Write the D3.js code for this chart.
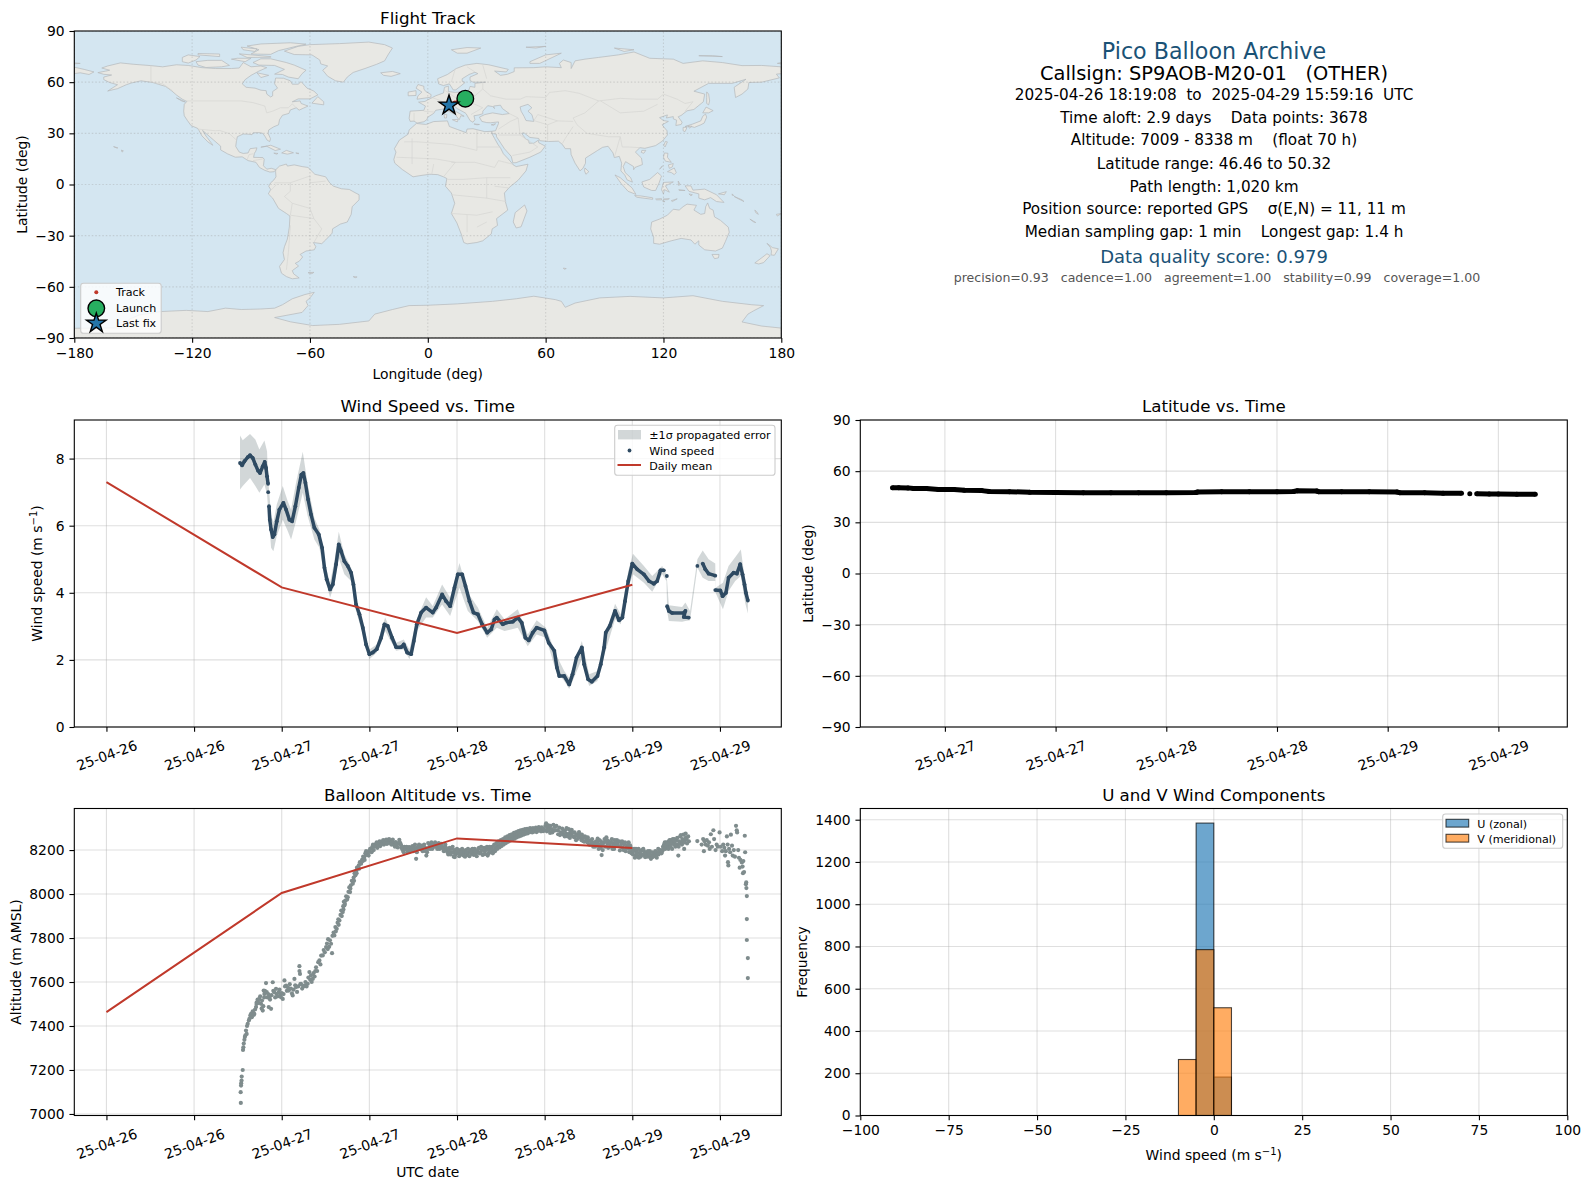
<!DOCTYPE html>
<html><head><meta charset="utf-8">
<script src="https://cdnjs.cloudflare.com/ajax/libs/d3/7.8.5/d3.min.js"></script>
<style>
html,body{margin:0;padding:0;background:#fff}
svg{display:block}
text{font-family:"DejaVu Sans",sans-serif;fill:#000;white-space:pre}
</style></head><body><svg id="c" width="1589" height="1189" viewBox="0 0 1589 1189"></svg>
<script>
// ---------- map outlines, [lon, lat] ----------
const northAmerica=[[-168,65.6],[-164,66.5],[-162,67],[-166,68.3],[-163,69.5],[-156.5,71.3],[-150,70.5],[-141,69.7],[-135,69],[-128,70.2],[-122,69.8],[-115,68.5],[-108,68],[-100,68],[-96,68.3],[-94,71.5],[-90,69],[-85,69.5],[-82,68.5],[-86,66.5],[-90,64],[-93,61.5],[-94.5,59],[-92.5,57],[-88,56.5],[-85,55.3],[-82.3,55],[-82,53],[-80,51.3],[-79,52],[-79,54.5],[-76.5,56.5],[-78,59],[-77.5,62.4],[-73.5,62.3],[-70,60.8],[-69,58.8],[-66,58.8],[-64.5,60.3],[-61.5,56.5],[-58,54.8],[-56,52.5],[-60,50.2],[-66,50.2],[-69,48.5],[-65,49],[-64.5,47.5],[-61,46],[-65.5,43.6],[-67,45],[-70,43.7],[-70.7,41.7],[-74,40.6],[-75.5,38],[-76,35],[-78.5,33.8],[-81,32],[-81.3,30],[-80.1,26.8],[-80.5,25.2],[-81.8,26],[-82.8,28],[-84,30],[-86,30.4],[-89,30.3],[-89.5,29.2],[-91.5,29.5],[-94,29.6],[-97,28],[-97.5,25],[-97.8,22.3],[-96,19],[-94,18.2],[-91.5,18.5],[-90.5,21],[-87,21.5],[-87.6,19.5],[-88.3,18.3],[-88.7,15.9],[-84,15.8],[-83.3,14.8],[-83.7,11],[-82,9],[-79.7,9.5],[-77.4,8.7],[-78.2,7.5],[-80.4,7.3],[-83,8.3],[-85.7,10],[-87.5,13],[-91.5,14],[-94.5,16.2],[-98,16],[-102,18],[-105.5,20.3],[-105.5,22.5],[-109,26],[-112.5,29.5],[-114.7,31.7],[-113,28.5],[-110,24],[-109.5,23],[-112,25],[-115,28.5],[-116.5,31.7],[-117.3,33],[-120.5,34.5],[-122.4,37.5],[-124,40.3],[-124.3,43],[-124,47],[-122.7,48.7],[-125,50],[-128,52.5],[-130.5,55],[-133.5,57.5],[-137,58.7],[-140,59.8],[-146,60.8],[-151,59.5],[-153.5,58.5],[-158,56.2],[-163,54.8],[-158,58.5],[-162,59.8],[-165,61.5],[-165,63],[-161,64.2],[-165,64.6]];
const southAmerica=[[-77.4,8.7],[-75.5,10.8],[-72,12],[-71.5,10.8],[-68,11.5],[-64,10.5],[-61,10],[-57.5,6],[-52,4.5],[-50,1],[-48,-1],[-44,-2.5],[-40,-2.9],[-37,-4.8],[-35,-6],[-35,-9],[-38.5,-13],[-39,-17.5],[-41,-22],[-44.5,-23.2],[-48.5,-26],[-48.7,-28.5],[-52,-32.5],[-54,-34.7],[-58.3,-34],[-57,-36.5],[-57.8,-38.3],[-62,-39],[-65,-41],[-63.7,-42.5],[-65.5,-45],[-67.5,-46.2],[-65.8,-47.8],[-69,-50.5],[-68.3,-52.4],[-65.5,-54.8],[-69,-55.3],[-72,-54],[-74.5,-52],[-75.5,-48],[-73,-44],[-73.7,-40],[-73,-36.5],[-71.5,-32],[-70.5,-25],[-70.2,-18.5],[-72,-17],[-76,-14],[-79,-8],[-81.2,-5.5],[-80,-3],[-81,-1],[-80,1],[-78.5,2.5],[-77.3,4.5],[-77.5,7.5]];
const eurasia=[[-9,37],[-9.5,38.8],[-9,43],[-2,43.5],[-1.2,46],[-4.7,48.3],[-1.5,48.7],[1.5,50.5],[4,52],[8,53.7],[8.5,57],[10.5,57.7],[10.5,54.5],[14,54],[19,54.5],[21,55.5],[21.5,57.5],[24,57],[24,59.3],[29.5,60],[23,60],[21.5,61],[21.5,63],[25.5,65],[24,65.8],[21,64.5],[17.5,62],[17.5,60.5],[19,59.8],[16.5,57.5],[14.3,55.5],[13,55.4],[11,59],[8,58],[5.5,59],[5,62],[10,64.5],[14.5,68],[19,70],[25,71],[31,70.2],[41,67.5],[40,66],[34,66.5],[37,64],[40.5,64.6],[44,66.2],[44,68.4],[54,68.5],[60,69],[68,68.5],[67,71],[69,73],[73,71.5],[73,68],[75,72.5],[80,73.5],[87,74.5],[97,76],[105,77.7],[113,74],[125,73.5],[130,71],[140,72.5],[150,71.5],[160,69.7],[170,69.8],[180,69],[180,65],[177.5,64.7],[179,62.5],[170,60],[163.5,59.8],[163,56],[160,53],[156.7,51],[156,57],[162,61.7],[155,59.3],[143,59.3],[135.5,54.7],[141,53],[140.3,48.5],[135.5,44],[132,43.2],[129,40.5],[127.5,39.7],[129.5,36.5],[129,35.2],[126.3,34.6],[126.7,37.7],[125,38.5],[125,39.8],[121.5,39],[122,40.8],[118,39.2],[120,37.5],[122.5,37],[119.3,35],[121.8,31.5],[122,29],[119.5,25.5],[116,22.8],[110.5,21.2],[108,21.6],[105.7,19],[108.8,15.5],[109.3,11.7],[105.5,10],[104.8,8.7],[104.8,10.5],[102,12.5],[100.7,13.4],[99.5,10.5],[100.5,7],[103.3,4],[104.2,1.4],[101.5,2.7],[100.3,5.5],[98.3,8],[98.7,12.5],[97.5,16.5],[95,15.8],[94.3,18.5],[91.8,22.4],[89,21.8],[86.5,20],[80.3,15.5],[80.3,12.5],[79,9.5],[77.5,8],[75,12.5],[73,17.5],[72.7,21],[70,21],[68.5,23.5],[66.5,25.4],[61.5,25.2],[57,25.7],[56.5,27],[52,27.6],[49,30.3],[47.8,30],[48.7,28.5],[50,26.5],[51.3,26],[51.6,24.2],[54,24.2],[56.3,26],[56.5,24.5],[59.8,22.5],[57.5,19],[52,16],[45,12.8],[43.3,12.7],[42.5,16.5],[39,21],[35,28],[34.9,29.5],[32.6,29.9],[32.5,31.2],[34.5,31.5],[36,35.8],[36,36.7],[32,36.2],[30,36.3],[27.5,37],[26.3,39.5],[29,41],[33,42],[38,41],[41.5,41.6],[38,44.5],[37,46.5],[33.5,46],[34,44.5],[33,45.7],[30.5,46.2],[28,43],[28,41.5],[26,40.8],[23.5,40.3],[24,38],[23,36.5],[21.5,37.5],[19.5,41.5],[19,42],[15,44.5],[13.7,45.7],[12.3,45.3],[12.5,44],[16,41.7],[18.5,40],[16.8,40.3],[16,38],[15.6,38.5],[14,41],[10.5,43],[8.5,44.4],[4,43.5],[3,41.7],[0,39.5],[-0.5,38],[-2,36.8],[-5.5,36],[-7,37.2]];
const africa=[[-5.8,35.8],[-1,35.2],[3,36.9],[10,37.3],[11,34],[15,32.3],[19.5,30.4],[20,32.5],[23,32.7],[29,31],[32.5,31.2],[32.6,29.9],[34,27],[35.7,23.5],[37.2,21],[38.5,18],[41,15],[43.2,12],[43.5,11.5],[45,10.5],[51,11.9],[50,8],[46,2.5],[41.5,-1.7],[39,-5],[39.5,-10],[40.7,-15],[35,-20],[35.5,-24],[32.8,-26],[32.3,-29],[28,-33],[25,-34],[20,-34.8],[18.3,-34],[17,-29],[14.8,-22.5],[12,-17],[13.7,-11],[12,-5],[9,-1],[9.7,3.5],[8,4.5],[5,5.8],[1,6],[-4,5.2],[-7.5,4.5],[-13,8.8],[-16.8,12.5],[-17.3,14.7],[-16.2,19],[-17,21],[-14.5,26],[-10,29.5],[-9.5,32]];
const australia=[[114,-22],[113.5,-26],[115,-31],[115,-34.5],[118,-35],[124,-33],[129,-31.6],[134,-32.5],[136,-35],[138,-33],[138,-35.5],[141,-38.3],[146.5,-39],[150,-37.3],[151.5,-33.5],[153.5,-28],[153,-25],[149,-21],[146,-19],[145.3,-15],[143.5,-14],[142.5,-10.8],[141.5,-13],[141,-17],[139,-17.5],[135.5,-15],[136.8,-12.2],[132,-11.5],[130,-13],[128,-15],[125,-14.5],[122,-18],[118,-20.3]];
const antarctica=[[-180,-84.3],[-155,-84],[-152,-79],[-147,-76.5],[-136,-74.5],[-123,-73.8],[-112,-74.5],[-103,-72.5],[-95,-73.3],[-85,-73],[-78,-72.5],[-74,-70.5],[-69,-67],[-62.5,-64.5],[-57.8,-63.2],[-60,-66.5],[-62,-68.5],[-61,-71],[-64,-75],[-78,-78],[-70,-80.5],[-58.6,-82.7],[-45,-82],[-30,-80],[-27,-76],[-18,-73.3],[-9.5,-71],[0,-70.8],[15,-70],[33,-68.5],[45,-67],[54,-65.5],[65,-67.5],[68,-68.5],[70,-72],[75,-69.5],[87.5,-66.5],[103,-65.6],[120,-66.5],[135,-65.2],[150,-68.5],[165,-70.5],[171,-71],[166,-74],[163,-76],[160,-80.6],[170,-83],[180,-84.2],[180,-91],[-180,-91]];
const greenland=[[-73,78.2],[-66,81],[-60,82],[-45,82.6],[-30,83.5],[-22,82],[-18,80],[-20,76.5],[-22,72.5],[-26,70.5],[-32,68],[-38,65.7],[-41,63],[-43,60],[-47,60.8],[-51,63.5],[-53.5,67],[-51,69.5],[-54.5,70.7],[-55,73],[-59,76],[-68,76.2]];
const arcticIslands=[
[[-80,73.7],[-72,71.5],[-68,70],[-62,67],[-64,65],[-66,62],[-71,63],[-74,64.5],[-78,64.7],[-73,67.5],[-78,69.8],[-86,70],[-89,71.5],[-85,73.7]],
[[-117,70],[-113,68.6],[-105,69],[-101,69.8],[-105,72.8],[-112,72.8],[-118,72]],
[[-125,72],[-122,71.2],[-118,73],[-116,75],[-122,76],[-125,74.5]],
[[-90,76.5],[-80,76.3],[-76,78.5],[-67,81],[-62,82.3],[-70,83.1],[-85,82.4],[-92,81.2],[-86,79]],
[[-96,76.6],[-80,75],[-80,74.6],[-92,74.5]],
[[-87,65.5],[-81,64],[-85,62.7]],
[[-117,76],[-106,75],[-106,76.5],[-117,76.8]],
[[-95,80.5],[-87,79.5],[-88,78],[-94,79]],
[[-100,73.5],[-93,72],[-90,74],[-97,74]],
[[12,79],[20,80.3],[27,80],[20,77],[15,77]],
[[52,71],[57,71],[68,77],[60,76],[52,72]],
[[95,80],[105,79],[100,78]],
[[138,75.5],[145,75.5],[150,75]],
[[50,80.5],[60,81],[55,80]],
[[-180,71.3],[-177,71],[-180,70.8]],
[[178,71],[180,71.5],[180,70.8]],
[[-180,68.8],[-175,67.5],[-170,66],[-172.5,64.5],[-177,65.5],[-180,65]]];
const atlanticIslands=[
[[-59,47.7],[-53,46.7],[-53,48.5],[-56,51.5]],
[[-128,50.8],[-123.5,48.4],[-125,48.8]],
[[-85,21.9],[-80,23],[-75,20.7],[-77.7,19.9],[-82,22.4]],
[[-74.4,18.5],[-72,20],[-68.4,18.6],[-71.5,17.8]],
[[-78.4,18.4],[-76.3,18.2],[-77,17.8]],
[[-67.2,18.5],[-65.6,18.3],[-66,18]],
[[-156,20.2],[-155,19.7],[-155.7,19]],
[[-160,22.2],[-157.8,21.5],[-158.2,21.3]],
[[-61,-51.7],[-58,-51.5],[-59,-52.3]],
[[-38,-54],[-36,-54.2],[-37,-54.7]],
[[-24,65.5],[-18,66.3],[-14,65],[-18.7,63.4],[-22.5,64]],
[[-5.5,50],[1.5,51.2],[1.7,52.7],[-1,54.5],[-2,56],[-2,57.6],[-5,58.6],[-6,56.5],[-3,54.2],[-5,52]],
[[-10,52],[-6,52.2],[-6,55],[-10,54.2]],
[[8.3,41],[9.7,41],[9.5,39],[8.5,39]],
[[12.5,38],[15.5,38.2],[15,36.7]],
[[23.5,35.5],[26.3,35.2],[25,35]],
[[32.3,35],[34.5,35.6],[33.5,34.7]]];
const asiaPacificIslands=[
[[49.3,-12],[50.5,-15.5],[47.5,-24.8],[45,-25.5],[43.5,-22],[44.5,-16.5]],
[[80,9.7],[82,7.5],[80.5,6],[79.8,8]],
[[95.3,5.6],[98,4],[104,-2],[106,-5.8],[102,-4],[98.5,0.5]],
[[105.3,-6.5],[108.5,-6.7],[114.5,-7.8],[114.5,-8.7],[106.5,-7.5]],
[[109,1.5],[113,3],[117,7],[119,5],[117.8,1],[116,-3.5],[114,-3.5],[110,-1.5]],
[[120,1.2],[125,1.5],[121,-0.8],[123,-4.5],[120.5,-3],[120,-5.5],[119,-3]],
[[120.5,18.5],[122.3,18.3],[122,16],[124,13],[121,13.7],[120,16]],
[[122,7.5],[125.5,9.7],[126.5,7],[125.5,5.8],[124,7]],
[[122.5,11.5],[125,12.3],[124.5,10.3],[123,9.5]],
[[118,9],[119.5,11],[119,10]],
[[131,-0.8],[134,-0.8],[135,-3.3],[141,-2.7],[147,-6],[150.8,-10.5],[147,-10],[144,-7.7],[141,-9],[138,-8],[138,-5.5],[133,-4]],
[[144.7,-41],[148.3,-41],[148,-43],[146,-43.5]],
[[172.7,-34.5],[175.5,-37],[178.5,-37.7],[176.5,-41.5],[174.8,-41.3],[175,-39],[174.5,-37]],
[[172.7,-40.6],[174.3,-41.7],[171,-45.8],[168.5,-46.6],[166.5,-46],[170,-43]],
[[131,34],[135,35.5],[139,37.3],[140,40],[141.4,41.3],[142,39.5],[140.7,36],[139,35],[135.8,33.5],[133,34.3]],
[[140,42],[141.7,45.4],[145.3,43.3],[143,42]],
[[130,33.5],[132,33.5],[131,31],[130,31.5]],
[[132.5,34],[134.5,34.2],[133.5,33]],
[[142,54.3],[143,53],[143.5,49],[143,46.7],[142,47.5],[142,51]],
[[121,25.2],[122,25],[120.8,22],[120.2,23]],
[[109,20],[111,20],[110,18.3],[108.7,18.8]],
[[69,-49],[70.5,-49.3],[69.5,-49.7]],
[[164,-20.3],[167,-22.3],[166,-22]],
[[156,-7],[160,-9],[161,-10],[158,-8.3]],
[[166.5,-15],[167.5,-16],[168.3,-17.5],[167,-16.5]],
[[177.5,-17.5],[180,-17],[178,-18.5]],
[[148,-5.5],[152,-4.2],[151,-6]],
[[124,-9.5],[127,-8.4],[124.5,-10]],
[[116,-8.5],[119,-8.3],[119,-9],[116.5,-9]],
[[119.8,-8.5],[123,-8.3],[122,-8.9],[120,-8.9]],
[[119.5,-9.5],[120.8,-10],[120,-10.2]],
[[127.5,2],[128.5,0],[127.7,-0.5]],
[[127.8,-3],[131,-3.5],[128,-3.5]],
[[133,-5.5],[134.7,-6],[134,-6.7]],
[[155,-5.5],[155.8,-6.5],[155,-6.3]]];
const inlandSeas=[[[47,45.5],[51,47],[53,45],[51,43],[53,41],[54,37],[50,37.5],[49,40],[47.5,43]]];
const borderLines=[
[[-141,69.7],[-141,60],[-135,59],[-130,55]],[[-123,49],[-95,49],[-89,48],[-83,46],[-82,42],[-79,43],[-75,45],[-71,45],[-69,47.3],[-67.5,45.5]],
[[-117,32.5],[-108,31.5],[-106,31.7],[-101,29.8],[-97.3,25.9]],[[-92,14.5],[-91,17.5],[-89,18]],[[-89,14],[-84,15]],
[[-70,-18],[-58,-20],[-54,-26],[-58,-34]],[[-70,-18],[-69,-11],[-73,-7],[-70,-4],[-70,1],[-60,5]],[[-70,-24],[-71,-40],[-72,-50]],[[-77,0],[-80,-3.5]],[[-70,1],[-78,1]],[[-60,5],[-60,1],[-52,2]],[[-58,-20],[-60,-14],[-69,-11]],
[[28,56],[32,52],[40,50],[47,50],[50,51.5],[60,51],[62,54],[70,55],[77,53.5],[87,49],[98,50.5],[107,50],[117,50],[120,53],[127,50],[131,47.5],[135,48.5],[131,43]],[[87,49],[80,42],[74,39],[76,35],[81,30],[92,28],[98,28],[99,22],[102,22],[108,21.6]],[[98,28],[95,16]],[[88,49],[98,42],[110,43],[117,47]],
[[74,34],[70,27],[68.5,24]],[[61,25.5],[61,35],[54,37.5]],[[61,35],[66,37.3],[74,37]],[[54,37.5],[56,41],[66,37.3]],[[47,29],[46,39],[41.5,41.6]],[[36,29],[47,29],[56,22],[52,19],[43,17]],[[36,32.5],[42,37],[46,39]],
[[-12,25],[-5,25],[12,23.5],[25,20],[25,32]],[[25,22],[37,22]],[[12,13],[24,13],[34,10]],[[-16,16],[4,15],[14,13]],[[10,3],[18,3],[30,4],[42,4]],[[12,-6],[30,-8],[40,-10]],[[12,-17],[25,-18],[33,-16]],[[20,-18],[20,-28]],[[30,-22],[25,-25]],[[34,10],[36,14],[43,12]],[[-8,12],[-8,27]],[[2,6],[3,12]],[[8,4.5],[14,13]],[[30,4],[30,-8]],[[34,-1],[41,-2]],
[[2,51],[7,49],[8,47.5],[14,47],[22,48],[24,52],[14,51],[9,55]],[[-2,43],[3,42.5]],[[22,48],[28,45],[22,41]],[[-7,42],[-7,37.2]],[[24,52],[28,56],[28,60]],[[14,68],[12,60]],[[20,69],[24,66]],[[28,70],[30,62]]];

// ---------- flight track ----------
const trackLon=[19.1,17.4,15.6,13.8,12.2,10.8];
const trackLat=[50.32,49.4,48.7,47.9,47.1,46.46];
const launchFix=[19.1,50.32];
const lastFix=[10.8,46.46];
const lonTicks=[-180,-120,-60,0,60,120,180];
const latTicks=[-90,-60,-30,0,30,60,90];

// ---------- wind speed, hours since 25-04-26 00:00 UTC ----------
const windHours=[18.29,18.57,18.89,19.34,19.66,20.03,20.39,20.76,21.03,21.4,21.67,21.85,21.99,22.13,null,22.15,null,22.26,22.36,22.54,22.77,23,23.32,23.68,24.23,24.6,25.05,25.42,25.87,26.33,26.69,26.97,27.24,27.61,28.02,28.47,29.07,29.53,29.85,30.16,30.62,30.99,31.44,31.81,32.13,32.58,33.04,33.5,33.82,34.18,34.64,35.1,35.55,36,36.47,37.01,37.61,38.06,38.52,39.11,39.66,40.35,40.71,41.17,41.72,42.08,42.49,43.09,43.77,44.68,45.14,45.96,46.51,47.06,47.65,48.11,48.7,49.16,49.71,50.26,50.85,51.44,52.13,52.68,53.14,53.45,54.27,54.73,55.64,56.32,56.86,57.36,57.82,58.36,58.91,59.95,60.55,61.32,61.68,62,62.68,63.36,63.82,64.36,65.09,65.41,65.95,66.45,67.23,67.68,68.14,68.36,68.91,69.64,70.18,70.64,71,71.45,72,72.68,73.59,74.27,74.95,75.41,75.86,76.32,null,76.73,null,76.77,77,77.45,79.05,79.27,79.05,79.73,null,80.91,null,81.64,82,82.45,83.36,null,83.36,84.05,84.36,84.82,85.18,85.86,86.32,86.77,87.09,87.36,87.55,87.82];
const windSpeed=[7.87,7.8,7.92,8.04,8.1,8.02,7.82,7.64,7.57,7.77,7.9,7.72,7.47,7.25,null,7,null,6.58,6.18,5.89,5.66,5.74,6.13,6.48,6.68,6.48,6.18,6.13,6.58,7.13,7.52,7.57,7.28,6.78,6.33,5.94,5.74,5.34,4.75,4.4,4.1,4.25,4.85,5.44,5.24,4.94,4.8,4.6,4.25,3.65,3.36,2.96,2.46,2.17,2.22,2.32,2.66,3.06,3.01,2.66,2.38,2.38,2.46,2.22,2.17,2.56,3.06,3.41,3.56,3.41,3.56,3.95,3.75,3.6,4.15,4.55,4.55,4.2,3.75,3.41,3.36,3.06,2.81,2.91,3.21,3.26,3.06,3.11,3.14,3.26,3.11,2.66,2.58,2.81,2.96,2.88,2.51,2.27,1.77,1.52,1.52,1.27,1.57,2.07,2.37,1.87,1.42,1.35,1.52,1.87,2.37,2.81,3.01,3.46,3.18,3.26,3.75,4.35,4.87,4.7,4.55,4.35,4.27,4.35,4.67,4.67,null,4.5,null,3.6,3.46,3.4,3.4,3.46,3.28,3.26,null,4.8,null,4.87,4.7,4.57,4.51,null,4.08,4.07,3.9,4,4.45,4.6,4.57,4.85,4.55,4.25,4,3.77];
const bandHours=[18.29,18.66,19.66,20.39,20.94,21.63,21.99,22.13,22.54,22.86,23.32,24.14,24.82,25.28,25.96,26.88,27.56,28.47,29.16,29.84,30.62,31.21,31.81,32.58,33.5,34.18,35.1,36,37.01,38.16,39.66,40.71,41.49,42.49,43.77,44.68,45.96,47.06,48.34,49.48,50.85,52.13,53.45,54.5,56.32,57.68,58.91,60.18,61.55,62.68,63.36,65.09,66.09,67.23,68.14,69.64,70.41,71.45,72.09,73.59,74.73,76.09,76.68,76.77,77,78.82,79.27,79.91,80.91,81.64,82.45,83.36,83.4,84.41,85.18,86.09,86.86,87.45,87.82];
const bandHigh=[8.69,8.55,8.73,8.57,8.27,8.54,8.22,7.42,6.33,6.09,6.63,7.18,6.73,6.48,7.28,8.2,7.23,6.23,5.89,4.94,4.3,4.94,5.82,5.14,4.75,3.8,3.11,2.31,2.46,3.26,2.51,2.61,2.31,3.21,3.87,3.61,4.25,3.85,4.89,4,3.56,2.96,3.51,3.21,3.51,2.76,3.18,2.96,2.17,1.67,1.47,2.56,1.57,1.67,2.56,3.67,3.36,4.65,5.16,4.8,4.5,4.8,4.55,4.35,3.63,3.58,3.71,3.46,5,5.26,5,4.87,4.15,4.3,4.8,5.06,5.29,4.35,4];
const bandLow=[7.08,7.18,7.42,7.18,6.98,7.23,6.93,6.53,5.34,5.24,5.69,6.18,5.84,5.59,6.13,6.98,6.28,5.59,5.34,4.5,3.85,4.25,5.04,4.55,4.35,3.45,2.76,2.02,2.22,2.86,2.27,2.32,2.02,2.86,3.26,3.26,3.65,3.31,4.15,3.46,3.16,2.66,2.96,2.86,2.96,2.41,2.76,2.66,1.67,1.37,1.13,2.02,1.22,1.37,2.12,3.21,3.06,4.15,4.55,4.3,4.03,4.55,4.35,3.46,3.16,3.14,3.16,3.18,4.75,4.45,4.35,4.35,4,3.51,4.05,4.35,4.5,3.7,3.38];
const dailyHours=[0,24,48,72];
const dailyWind=[7.3,4.16,2.8,4.24];
const dailyAlt=[7463,8005,8253,8209];
const windTicks=[0,2,4,6,8];

// ---------- latitude vs. time ----------
const latHours=[18.32,19,20,20.6,22,23.3,25,26.1,28,28.8,31,33.2,36,39,42,45,48,51.2,51.4,54,57,60,61.8,62.2,64.3,64.5,67,70,73,73.3,76,78,80,null,80.9,null,81.65,83,84,86,88];
const latValues=[50.32,50.25,50.2,49.9,49.8,49.3,49.2,48.8,48.6,48.1,48,47.6,47.5,47.4,47.4,47.4,47.4,47.5,47.8,47.9,48,48,48.1,48.5,48.4,48,47.9,47.9,47.8,47.4,47.3,47.1,47,null,46.8,null,46.7,46.6,46.55,46.5,46.46];

// ---------- altitude readings, [hour, metres] ----------
const altClimbA=[[18.4,7050],[18.38,7099],[18.43,7129],[18.45,7140],[18.5,7152],[18.52,7170],[18.66,7200],[18.7,7291],[18.75,7303],[18.8,7320],[18.89,7337],[18.95,7350],[19.02,7357],[19.2,7364],[19.11,7379],[19.25,7400],[19.34,7410],[19.5,7425],[19.57,7432],[19.7,7448],[19.8,7455],[19.9,7440],[20.03,7467],[20.15,7450],[20.25,7455],[20.35,7475],[20.48,7486],[20.55,7500],[20.58,7508],[20.7,7520],[20.85,7505],[20.94,7523],[21.05,7535],[21.17,7501],[21.25,7480],[21.3,7516],[21.4,7470],[21.48,7490],[21.53,7561],[21.6,7530],[21.63,7546],[21.7,7560],[21.85,7595],[21.95,7554],[22.05,7530],[22.15,7545],[22.22,7486],[22.31,7531],[22.4,7520],[22.54,7478],[22.6,7540],[22.77,7599],[22.85,7560],[23,7554],[23.1,7530],[23.22,7569],[23.3,7545],[23.45,7535],[23.59,7554],[23.7,7565],[23.8,7540],[23.9,7531],[24,7550],[24.14,7523],[24.25,7545]];
const altShelf=[[24.37,7607],[24.45,7580],[24.6,7584],[24.7,7560],[24.85,7575],[24.96,7561],[25.1,7590],[25.25,7570],[25.4,7548],[25.5,7539],[25.62,7565],[25.74,7614],[25.85,7585],[25.96,7577],[26.1,7555],[26.25,7580],[26.42,7672],[26.43,7650],[26.5,7637],[26.55,7590],[26.64,7592],[26.8,7570],[26.95,7580],[27.1,7584],[27.25,7600],[27.4,7580],[27.56,7592],[27.65,7620],[27.79,7645],[27.9,7610],[28,7630],[28.1,7600],[28.25,7614],[28.35,7640],[28.5,7625],[28.6,7650],[28.7,7667],[28.85,7650],[29,7690],[29.16,7698],[29.3,7680],[29.4,7720],[29.62,7721],[29.75,7745],[29.9,7735],[30.07,7759],[30.2,7775],[30.35,7795],[30.5,7760],[30.6,7790],[30.75,7774],[30.89,7731],[30.95,7810]];
const altClimbB=[[31.1,7825],[31.21,7812],[31.35,7850],[31.53,7842],[31.65,7870],[31.75,7885],[31.9,7880],[32.05,7905],[32.15,7925],[32.22,7900],[32.36,7918],[32.42,7945],[32.5,7965],[32.58,7948],[32.7,7970],[32.82,7990],[32.95,7975],[33.04,7986],[33.14,8010],[33.25,8030],[33.36,8009],[33.46,8040],[33.6,8060],[33.73,8047],[33.85,8075],[33.97,8095],[34.09,8085],[34.2,8105],[34.3,8120],[34.41,8115],[34.55,8130],[34.7,8145],[34.87,8138],[35,8155],[35.15,8170],[35.3,8168],[35.45,8185],[35.6,8178],[35.8,8183],[35.95,8195],[36.1,8205],[36.24,8206],[33.4,8025],[33.9,8060],[34.25,8095],[34.6,8115],[35.1,8150],[35.35,8155],[35.55,8195],[35.9,8175],[36.3,8190],[32.45,7930],[32.65,7955],[31.8,7860],[31.4,7830],[30.3,7750]];
const altFloatA=[[36.4,8215],[36.6,8200],[36.8,8225],[36.9,8221],[37.1,8210],[37.3,8230],[37.5,8218],[37.7,8238],[37.84,8236],[38,8225],[38.2,8240],[38.4,8228],[38.55,8242],[38.75,8241],[38.9,8232],[39.1,8240],[39.25,8225],[39.43,8229],[39.6,8236],[39.8,8215],[39.95,8232],[40.1,8247],[40.25,8230],[40.4,8210],[40.6,8198],[40.8,8215],[41,8205],[41.2,8190],[41.35,8212],[41.5,8214],[41.7,8200],[41.9,8218],[42.1,8205],[42.25,8225],[42.4,8160],[42.5,8190],[42.65,8215],[42.8,8225],[43,8205],[43.15,8220],[43.3,8195],[43.5,8225],[43.65,8210],[43.8,8175],[43.9,8190],[44.05,8232],[44.2,8215],[44.4,8225],[44.6,8205],[44.8,8215],[45,8235],[45.2,8215],[45.4,8222],[45.6,8205],[45.8,8220],[46,8210],[46.2,8195],[46.4,8225],[46.6,8200],[46.8,8180],[47,8210],[47.2,8190],[47.4,8215],[47.55,8170],[47.7,8168],[47.85,8195],[48,8205]];
const altFloatAFill=[[36.5,8225],[36.7,8215],[37,8235],[37.2,8218],[37.4,8240],[37.6,8225],[37.9,8245],[38.1,8235],[38.3,8248],[38.5,8232],[38.7,8250],[39,8225],[39.2,8248],[39.5,8215],[39.7,8225],[39.9,8212],[40.15,8235],[40.35,8222],[40.5,8205],[40.7,8190],[40.9,8205],[41.1,8215],[41.3,8200],[41.6,8195],[41.8,8210],[42,8195],[42.2,8210],[42.45,8205],[42.7,8205],[42.95,8218],[43.2,8205],[43.4,8215],[43.7,8195],[44,8205],[44.3,8205],[44.5,8235],[44.7,8225],[44.95,8215],[45.1,8225],[45.3,8205],[45.5,8232],[45.7,8212],[45.9,8228],[46.1,8205],[46.3,8215],[46.5,8210],[46.7,8190],[46.9,8200],[47.1,8180],[47.3,8205],[47.5,8188],[47.65,8200],[47.8,8180],[47.95,8190]];
const altFloatB=[[48.2,8185],[48.4,8200],[48.6,8180],[48.8,8195],[49,8185],[49.2,8200],[49.4,8178],[49.6,8190],[49.8,8200],[50,8182],[50.2,8192],[50.4,8205],[50.6,8185],[50.8,8195],[51,8210],[51.2,8190],[51.4,8200],[51.6,8180],[51.8,8195],[52,8205],[52.2,8175],[52.35,8185],[52.5,8205],[52.65,8190],[52.8,8215],[52.95,8200],[53.1,8225],[53.25,8210],[53.4,8232],[53.55,8218],[53.7,8240],[53.85,8225],[54,8245],[54.15,8230],[54.3,8250],[54.45,8238],[54.6,8258],[54.75,8245],[54.9,8262],[55.05,8250],[55.2,8268],[55.35,8255],[55.5,8272],[55.65,8260],[55.8,8278],[55.95,8268],[56.1,8282],[56.25,8272],[56.4,8286],[56.55,8278],[56.7,8290],[56.85,8280],[57,8292],[57.15,8284],[57.3,8295],[57.45,8288],[57.6,8297],[57.8,8290],[58,8300],[58.2,8292],[58.4,8300],[58.6,8294],[58.8,8302],[59,8295],[59.2,8304],[59.4,8296],[59.6,8303],[59.8,8298]];
const altFloatBFill=[[48.1,8200],[48.3,8172],[48.5,8190],[48.7,8205],[48.9,8175],[49.1,8170],[49.3,8190],[49.5,8205],[49.7,8172],[49.9,8192],[50.1,8205],[50.3,8178],[50.5,8195],[50.7,8172],[50.9,8205],[51.1,8185],[51.3,8215],[51.5,8178],[51.7,8210],[51.9,8182],[52.1,8215],[52.3,8200],[52.45,8215],[52.7,8205],[52.9,8185],[53.2,8195],[53.5,8205],[53.8,8212],[54.1,8218],[54.4,8225],[54.7,8232],[55,8238],[55.3,8243],[55.6,8248],[55.9,8252],[56.2,8258],[56.5,8262],[56.8,8266],[57.1,8270],[57.4,8274],[57.7,8276],[58,8282],[58.3,8280],[58.6,8284],[58.9,8282],[59.2,8288],[59.5,8285],[59.8,8286]];
const altFloatC=[[60.1,8310],[60.2,8322],[60.35,8300],[60.5,8312],[60.65,8298],[60.8,8310],[61,8295],[61.2,8315],[61.4,8305],[61.6,8310],[61.8,8290],[62,8302],[62.2,8280],[62.4,8298],[62.6,8270],[62.8,8290],[63,8300],[63.15,8262],[63.3,8295],[63.5,8280],[63.7,8292],[63.9,8262],[64.1,8280],[64.3,8245],[64.5,8272],[64.7,8282],[64.9,8255],[65.1,8270],[65.3,8240],[65.5,8262],[65.7,8245],[65.9,8258],[66.1,8225],[66.3,8242],[66.5,8250],[66.7,8230],[66.9,8215],[67.05,8240],[67.25,8252],[67.4,8205],[67.55,8225],[67.7,8240],[67.8,8177],[67.95,8200],[68.1,8235],[68.3,8215],[68.45,8258],[68.6,8228],[68.8,8240],[69,8215],[69.2,8250],[69.35,8230],[69.5,8205],[69.7,8235],[69.9,8245],[70.1,8218],[70.3,8198],[70.5,8228],[70.7,8210],[70.9,8225],[71.1,8195],[71.3,8215],[71.5,8235],[71.6,8190],[71.8,8210],[71.95,8200]];
const altFloatCFill=[[60.05,8290],[60.3,8285],[60.55,8290],[60.75,8278],[61.05,8280],[61.3,8288],[61.55,8290],[61.85,8272],[62.1,8268],[62.35,8275],[62.55,8285],[62.75,8262],[62.95,8275],[63.25,8272],[63.45,8255],[63.65,8268],[63.85,8280],[64.05,8258],[64.25,8265],[64.45,8250],[64.65,8262],[64.85,8272],[65.05,8245],[65.25,8255],[65.45,8238],[65.65,8258],[65.85,8235],[66.05,8245],[66.25,8225],[66.45,8235],[66.65,8215],[66.85,8235],[67,8225],[67.2,8235],[67.35,8222],[67.5,8245],[67.65,8210],[67.85,8220],[68,8230],[68.2,8250],[68.35,8238],[68.55,8245],[68.7,8210],[68.9,8228],[69.1,8235],[69.3,8205],[69.45,8220],[69.6,8245],[69.8,8220],[70,8232],[70.2,8240],[70.4,8215],[70.6,8240],[70.8,8200],[71,8235],[71.2,8210],[71.4,8225],[71.55,8205],[71.7,8222],[71.9,8185]];
const altFloatD=[[72.1,8180],[72.25,8205],[72.4,8175],[72.55,8195],[72.7,8170],[72.85,8205],[73,8185],[73.15,8170],[73.3,8200],[73.45,8178],[73.6,8195],[73.75,8168],[73.9,8190],[74.05,8180],[74.25,8170],[74.4,8195],[74.6,8175],[74.8,8168],[75,8185],[75.2,8175],[75.4,8190],[75.55,8205],[75.75,8195],[76,8185],[76.2,8215],[76.35,8225],[76.5,8205],[76.65,8235],[76.85,8215],[77,8240],[77.15,8225],[77.3,8245],[77.45,8205],[77.6,8230],[77.75,8250],[77.9,8215],[78.05,8245],[78.2,8225],[78.3,8175],[78.4,8240],[78.55,8262],[78.7,8235],[78.85,8250],[79,8270],[79.1,8205],[79.2,8245],[79.35,8258],[79.5,8230],[79.75,8240]];
const altFloatDFill=[[72.15,8195],[72.35,8165],[72.5,8205],[72.65,8185],[72.9,8165],[73.1,8195],[73.25,8180],[73.5,8205],[73.7,8182],[73.95,8170],[74.15,8195],[74.35,8180],[74.55,8160],[74.75,8190],[74.95,8172],[75.15,8195],[75.35,8165],[75.6,8180],[75.9,8200],[76.1,8195],[76.3,8205],[76.45,8235],[76.6,8220],[76.8,8230],[76.95,8205],[77.1,8245],[77.25,8215],[77.4,8235],[77.55,8250],[77.7,8225],[77.85,8240],[78,8225],[78.15,8255],[78.35,8215],[78.5,8230],[78.65,8268],[78.8,8225],[78.95,8245],[79.15,8235],[79.3,8275],[79.45,8250],[79.65,8262]];
const altDescent=[[80.9,8241],[81.5,8225],[81.7,8250],[81.8,8195],[81.9,8240],[82.05,8225],[82.2,8245],[82.35,8220],[82.5,8235],[82.6,8205],[82.75,8272],[82.9,8215],[83.1,8290],[83.2,8250],[83.4,8200],[83.55,8225],[83.7,8215],[83.95,8280],[84.1,8215],[84.3,8195],[84.45,8225],[84.6,8210],[84.7,8175],[84.8,8195],[84.95,8262],[85.05,8225],[85.1,8145],[85.15,8130],[85.25,8205],[85.4,8190],[85.5,8270],[85.65,8220],[85.75,8175],[85.9,8200],[86.05,8170],[86.2,8310],[86.3,8290],[86.35,8280],[86.5,8200],[86.6,8165],[86.7,8120],[86.8,8155],[87,8144],[87.1,8125],[87.15,8095],[87.2,8150],[87.3,8100],[87.4,8265],[87.45,8190],[87.6,8053],[87.55,8045],[87.62,8027],[87.68,7991],[87.68,7886],[87.68,7791],[87.82,7709],[87.82,7618]];
const altTicks=[7000,7200,7400,7600,7800,8000,8200];

// ---------- wind component histogram ----------
const binEdgesU=[-5,0];
const binCountsU=[1384,182];
const binEdgesV=[-10,-5,0];
const binCountsV=[265,785,510];
const histBinWidth=5;
const histXTicks=[-100,-75,-50,-25,0,25,50,75,100];
const histYTicks=[0,200,400,600,800,1000,1200,1400];

// ---------- text ----------
const dateTicksFull=[0,12,24,36,48,60,72,84];
const dateLabelsFull=["25-04-26","25-04-26","25-04-27","25-04-27","25-04-28","25-04-28","25-04-29","25-04-29"];
const dateTicksLat=[24,36,48,60,72,84];
const dateLabelsLat=["25-04-27","25-04-27","25-04-28","25-04-28","25-04-29","25-04-29"];
const infoLines=[
 ["Pico Balloon Archive",22.2,"#1a5276",51,1214],
 ["Callsign: SP9AOB-M20-01   (OTHER)",19.4,"#000",73,1214],
 ["2025-04-26 18:19:08  to  2025-04-29 15:59:16  UTC",15.25,"#000",94.2,1214],
 ["Time aloft: 2.9 days    Data points: 3678",15.25,"#000",117.6,1214],
 ["Altitude: 7009 - 8338 m    (float 70 h)",15.25,"#000",140,1214],
 ["Latitude range: 46.46 to 50.32",15.25,"#000",163.2,1214],
 ["Path length: 1,020 km",15.25,"#000",186.5,1214],
 ["Position source: reported GPS    σ(E,N) = 11, 11 m",15.25,"#000",208.8,1214],
 ["Median sampling gap: 1 min    Longest gap: 1.4 h",15.25,"#000",232,1214],
 ["Data quality score: 0.979",18,"#1a5276",256.4,1214],
 ["precision=0.93   cadence=1.00   agreement=1.00   stability=0.99   coverage=1.00",12.55,"#555",277.6,1217]];

// ---------- layout & scales ----------
const svg=d3.select("#c");
const L=[74.3,781.3],R=[860.3,1567.3];
const R1=[338,31],R2=[727,420],R3=[1115.5,808.5];
const FS=13.89, SMALL=11.1, TITLE=16.67;
const red="#c0392b", navy="#2e4a62", slate="#7f8c8d";
const uniq=(()=>{let i=0;return ()=>"clip"+(++i);})();
const minus=s=>String(s).replace("-","\u2212");

function panel(xr,yr,xs,ys,o){
  const g=svg.append("g");
  const id=uniq();
  g.append("clipPath").attr("id",id).append("rect").attr("x",xr[0]).attr("y",yr[1]).attr("width",xr[1]-xr[0]).attr("height",yr[0]-yr[1]);
  const plot={bg:g.append("g"),grid:g.append("g"),clip:g.append("g").attr("clip-path",`url(#${id})`),top:g.append("g")};
  if(o.bg) plot.bg.append("rect").attr("x",xr[0]).attr("y",yr[1]).attr("width",xr[1]-xr[0]).attr("height",yr[0]-yr[1]).attr("fill",o.bg);
  plot.xr=xr;plot.yr=yr;
  plot.axes=()=>{
    const gs={stroke:"#b0b0b0","stroke-width":1.1,"stroke-opacity":.4};
    const grid=plot.gridLayer||plot.grid;
    const dashed=l=>{if(o.dash)l.attr("stroke-dasharray","1.5 2").attr("stroke","#999").attr("stroke-opacity",.32);};
    o.xTicks.forEach(t=>{const l=grid.append("line").attr("x1",xs(t)).attr("x2",xs(t)).attr("y1",yr[0]).attr("y2",yr[1]);Object.entries(gs).forEach(([k,v])=>l.attr(k,v));dashed(l);});
    o.yTicks.forEach(t=>{const l=grid.append("line").attr("x1",xr[0]).attr("x2",xr[1]).attr("y1",ys(t)).attr("y2",ys(t));Object.entries(gs).forEach(([k,v])=>l.attr(k,v));dashed(l);});
    const ax=d3.axisBottom(xs).tickValues(o.xTicks).tickSize(4.86).tickPadding(4.86).tickFormat((d,i)=>o.xLabels?o.xLabels[i]:minus(d));
    const xg=plot.top.append("g").attr("transform",`translate(0,${yr[0]})`).call(ax);
    const ay=d3.axisLeft(ys).tickValues(o.yTicks).tickSize(4.86).tickPadding(4.86).tickFormat(d=>minus(d));
    const yg=plot.top.append("g").attr("transform",`translate(${xr[0]},0)`).call(ay);
    [xg,yg].forEach(s=>{s.select(".domain").remove();s.selectAll("line").attr("stroke","#000").attr("stroke-width",1.1);s.selectAll("text").attr("font-family",null).style("font-size",FS+"px").attr("fill","#000");s.attr("font-family",null).attr("font-size",null);});
    if(o.xLabels){xg.selectAll(".tick text").attr("y",null).attr("dy",".35em").attr("text-anchor","middle").attr("transform","translate(0,28.5) rotate(-20)");}
    plot.top.append("rect").attr("x",xr[0]).attr("y",yr[1]).attr("width",xr[1]-xr[0]).attr("height",yr[0]-yr[1]).attr("fill","none").attr("stroke","#000").attr("stroke-width",1.1);
  };
  return plot;
}
function label(t,x,y,size,opt={}){
  const e=svg.append("text").attr("x",x).attr("y",y).attr("text-anchor",opt.anchor||"middle").style("font-size",size+"px").text(t);
  if(opt.fill) e.style("fill",opt.fill);
  if(opt.rot) e.attr("transform",`rotate(-90 ${x} ${y})`);
  return e;
}
function windLabel(x,y,rot){
  const e=svg.append("text").attr("x",x).attr("y",y).attr("text-anchor","middle").style("font-size",FS+"px");
  if(rot) e.attr("transform",`rotate(-90 ${x} ${y})`);
  e.append("tspan").text("Wind speed (m s");
  e.append("tspan").attr("dy",-5).style("font-size","10px").text("\u22121");
  e.append("tspan").attr("dy",5).text(")");
}
function legendBox(g,x,y,w,h,op){
  g.append("rect").attr("x",x).attr("y",y).attr("width",w).attr("height",h).attr("rx",2.8).attr("fill","#fff").attr("fill-opacity",op).attr("stroke","#ccc").attr("stroke-width",1.1);
}
function starPath(r){
  const pts=[];
  for(let i=0;i<10;i++){const a=-Math.PI/2+i*Math.PI/5,q=i%2?r*0.382:r;pts.push([q*Math.cos(a),q*Math.sin(a)]);}
  return "M"+pts.map(p=>p.join(",")).join("L")+"Z";
}

// ---------- Flight track ----------
{
  const x=d3.scaleLinear().domain([-180,180]).range(L), y=d3.scaleLinear().domain([-90,90]).range(R1);
  const p=panel(L,R1,x,y,{bg:"#d4e6f1",xTicks:lonTicks,yTicks:latTicks,dash:true});
  const geo=d3.line().x(d=>x(d[0])).y(d=>y(d[1]));
  const polys=[northAmerica,southAmerica,eurasia,africa,australia,antarctica,greenland,...arcticIslands,...atlanticIslands,...asiaPacificIslands];
  p.clip.selectAll("path.land").data(polys).join("path").attr("class","land").attr("d",d=>geo(d)+"Z").attr("fill","#e8e8e4").attr("stroke","#b4b8ba").attr("stroke-width",.7).attr("stroke-linejoin","round");
  p.clip.selectAll("path.sea").data(inlandSeas).join("path").attr("class","sea").attr("d",d=>geo(d)+"Z").attr("fill","#d4e6f1").attr("stroke","#b4b8ba").attr("stroke-width",.7);
  p.clip.selectAll("path.border").data(borderLines).join("path").attr("class","border").attr("d",geo).attr("fill","none").attr("stroke","#d6d6d2").attr("stroke-width",.7);
  p.gridLayer=p.clip.append("g");
  p.axes();
  const m=p.clip.append("g");
  m.selectAll("circle.t").data(trackLon).join("circle").attr("class","t").attr("cx",d=>x(d)).attr("cy",(d,i)=>y(trackLat[i])).attr("r",2.2).attr("fill",red);
  m.append("path").attr("d",d3.line().x(d=>x(d)).y((d,i)=>y(trackLat[i]))(trackLon)).attr("stroke",red).attr("stroke-width",3).attr("fill","none");
  m.append("circle").attr("cx",x(launchFix[0])).attr("cy",y(launchFix[1])).attr("r",8.3).attr("fill","#27ae60").attr("stroke","#000").attr("stroke-width",1.4);
  m.append("path").attr("transform",`translate(${x(lastFix[0])},${y(lastFix[1])})`).attr("d",starPath(10.3)).attr("fill","#2475a8").attr("stroke","#000").attr("stroke-width",1.4);
  const lg=p.top.append("g");
  legendBox(lg,80.7,283.3,80.5,50,.8);
  lg.append("circle").attr("cx",96.3).attr("cy",292.3).attr("r",2).attr("fill",red);
  lg.append("circle").attr("cx",96.3).attr("cy",308.3).attr("r",8.3).attr("fill","#27ae60").attr("stroke","#000").attr("stroke-width",1.4);
  lg.append("path").attr("transform","translate(96.3,323.3)").attr("d",starPath(10.3)).attr("fill","#2475a8").attr("stroke","#000").attr("stroke-width",1.4);
  [["Track",296.3],["Launch",312],["Last fix",327]].forEach(([t,yy])=>{lg.append("text").attr("x",116).attr("y",yy).style("font-size",SMALL+"px").text(t);});
  label("Flight Track",(L[0]+L[1])/2,23.8,TITLE);
  label("Longitude (deg)",(L[0]+L[1])/2,379,FS);
  label("Latitude (deg)",27,(R1[0]+R1[1])/2,FS,{rot:true});
}

// ---------- Info panel ----------
infoLines.forEach(([t,s,c,yy,xx])=>{label(t,xx,yy+s*0.36,s,{fill:c});});

// ---------- Wind speed ----------
const runs=(hs,vs)=>hs.map((h,i)=>({h,v:vs[i]}));
{
  const x=d3.scaleLinear().domain([-4.4,92.4]).range(L), y=d3.scaleLinear().domain([0,9.15]).range(R2);
  const p=panel(L,R2,x,y,{xTicks:dateTicksFull,xLabels:dateLabelsFull,yTicks:windTicks});
  p.axes();
  p.clip.append("path").attr("d",d3.area().x((d,i)=>x(d)).y0((d,i)=>y(bandLow[i])).y1((d,i)=>y(bandHigh[i]))(bandHours)).attr("fill","#34474f").attr("fill-opacity",.22);
  const pts=runs(windHours,windSpeed);
  p.clip.append("path").attr("d",d3.line().defined(d=>d.v!=null).x(d=>x(d.h)).y(d=>y(d.v))(pts)).attr("fill","none").attr("stroke",navy).attr("stroke-width",3.5).attr("stroke-linejoin","round");
  p.clip.selectAll("circle").data(pts.filter(d=>d.v!=null)).join("circle").attr("cx",d=>x(d.h)).attr("cy",d=>y(d.v)).attr("r",1.9).attr("fill",navy);
  p.clip.append("path").attr("d",d3.line().x(d=>x(d)).y((d,i)=>y(dailyWind[i]))(dailyHours)).attr("fill","none").attr("stroke",red).attr("stroke-width",2);
  const lg=p.top.append("g");
  legendBox(lg,614.7,425.3,160.3,50,.8);
  lg.append("rect").attr("x",618).attr("y",430).attr("width",23).attr("height",9.4).attr("fill","#34474f").attr("fill-opacity",.22);
  lg.append("circle").attr("cx",629.5).attr("cy",450.5).attr("r",1.9).attr("fill",navy);
  lg.append("line").attr("x1",617.5).attr("x2",641).attr("y1",465).attr("y2",465).attr("stroke",red).attr("stroke-width",2);
  [["\u00b11\u03c3 propagated error",439.3],["Wind speed",454.6],["Daily mean",470]].forEach(([t,yy])=>lg.append("text").attr("x",649.3).attr("y",yy).style("font-size",SMALL+"px").text(t));
  label("Wind Speed vs. Time",(L[0]+L[1])/2,412,TITLE);
  windLabel(42,(R2[0]+R2[1])/2,true);
}

// ---------- Latitude ----------
{
  const x=d3.scaleLinear().domain([14.83,91.47]).range(R), y=d3.scaleLinear().domain([-90,90]).range(R2);
  const p=panel(R,R2,x,y,{xTicks:dateTicksLat,xLabels:dateLabelsLat,yTicks:latTicks});
  p.axes();
  const pts=runs(latHours,latValues);
  p.clip.append("path").attr("d",d3.line().defined(d=>d.v!=null).x(d=>x(d.h)).y(d=>y(d.v))(pts)).attr("fill","none").attr("stroke","#000").attr("stroke-width",5).attr("stroke-linejoin","round");
  p.clip.selectAll("circle").data(pts.filter(d=>d.v!=null)).join("circle").attr("cx",d=>x(d.h)).attr("cy",d=>y(d.v)).attr("r",2.5).attr("fill","#000");
  label("Latitude vs. Time",(R[0]+R[1])/2,412,TITLE);
  label("Latitude (deg)",813,(R2[0]+R2[1])/2,FS,{rot:true});
}

// ---------- Altitude ----------
{
  const x=d3.scaleLinear().domain([-4.4,92.4]).range(L), y=d3.scaleLinear().domain([6993,8389]).range(R3);
  const p=panel(L,R3,x,y,{xTicks:dateTicksFull,xLabels:dateLabelsFull,yTicks:altTicks});
  p.axes();
  const all=[...altClimbA,...altShelf,...altClimbB,...altFloatA,...altFloatAFill,...altFloatB,...altFloatBFill,...altFloatC,...altFloatCFill,...altFloatD,...altFloatDFill,...altDescent];
  p.clip.selectAll("circle").data(all).join("circle").attr("cx",d=>x(d[0])).attr("cy",d=>y(d[1])).attr("r",2.1).attr("fill",slate);
  p.clip.append("path").attr("d",d3.line().x(d=>x(d)).y((d,i)=>y(dailyAlt[i]))(dailyHours)).attr("fill","none").attr("stroke",red).attr("stroke-width",2);
  label("Balloon Altitude vs. Time",(L[0]+L[1])/2,801,TITLE);
  label("UTC date",(L[0]+L[1])/2,1176.5,FS);
  label("Altitude (m AMSL)",21,(R3[0]+R3[1])/2,FS,{rot:true});
}

// ---------- Histogram ----------
{
  const x=d3.scaleLinear().domain([-100,100]).range(R), y=d3.scaleLinear().domain([0,1453]).range(R3);
  const p=panel(R,R3,x,y,{xTicks:histXTicks,yTicks:histYTicks});
  p.axes();
  const bars=(edges,counts,col)=>p.clip.append("g").selectAll("rect").data(counts).join("rect")
    .attr("x",(d,i)=>x(edges[i])).attr("width",x(histBinWidth)-x(0)).attr("y",d=>y(d)).attr("height",d=>y(0)-y(d))
    .attr("fill",col).attr("fill-opacity",.65).attr("stroke","#000").attr("stroke-opacity",.7).attr("stroke-width",1.1);
  bars(binEdgesU,binCountsU,"#1f77b4");
  bars(binEdgesV,binCountsV,"#ff7f0e");
  const lg=p.top.append("g");
  legendBox(lg,1442.7,814,120,34.3,.8);
  [["U (zonal)",819.3,"#1f77b4",828.2],["V (meridional)",834.3,"#ff7f0e",843.2]].forEach(([t,yy,c,by])=>{
    lg.append("rect").attr("x",1446).attr("y",yy).attr("width",22.7).attr("height",7.8).attr("fill",c).attr("fill-opacity",.65).attr("stroke","#000").attr("stroke-opacity",.7).attr("stroke-width",1.1);
    lg.append("text").attr("x",1477.3).attr("y",by).style("font-size",SMALL+"px").text(t);
  });
  label("U and V Wind Components",(R[0]+R[1])/2,801,TITLE);
  windLabel((R[0]+R[1])/2,1159.5,false);
  label("Frequency",807,(R3[0]+R3[1])/2,FS,{rot:true});
}
</script></body></html>
